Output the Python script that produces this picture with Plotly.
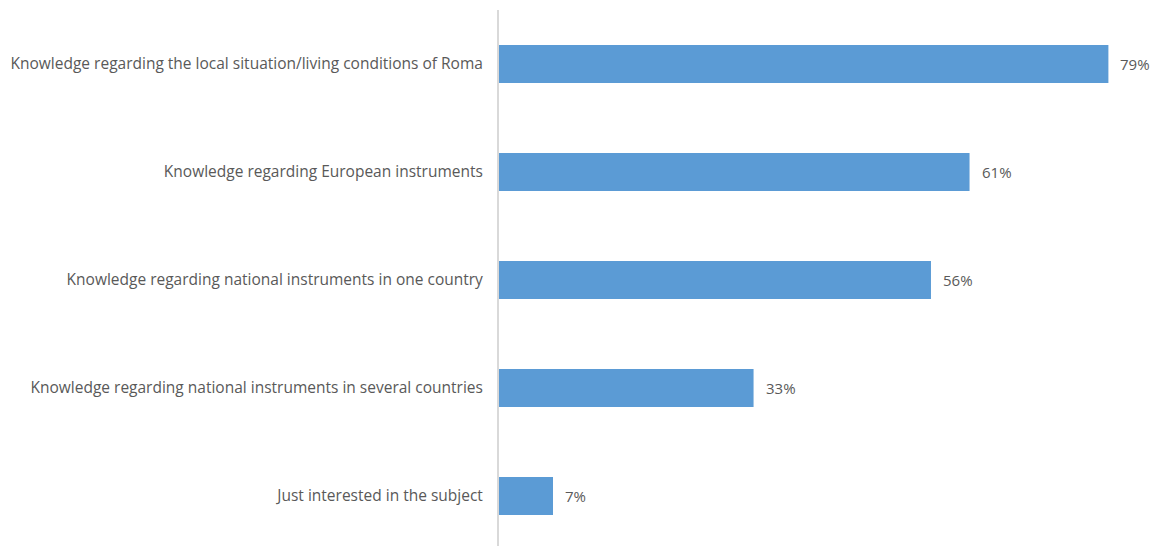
import plotly.graph_objects as go

categories = [
    "Knowledge regarding the local situation/living conditions of Roma",
    "Knowledge regarding European instruments",
    "Knowledge regarding national instruments in one country",
    "Knowledge regarding national instruments in several countries",
    "Just interested in the subject",
]
values = [79, 61, 56, 33, 7]
labels = [f"{v}%" for v in values]

FONT = "Open Sans"
TEXT_COLOR = "#595959"

fig = go.Figure(
    go.Bar(
        x=values,
        y=categories,
        orientation="h",
        width=0.352,
        marker=dict(color="#5B9BD5", line=dict(width=0)),
        hoverinfo="skip",
    )
)

# value labels just to the right of each bar end
for cat, val, lab in zip(categories, values, labels):
    fig.add_annotation(
        x=val,
        y=cat,
        text=lab,
        showarrow=False,
        xanchor="left",
        yanchor="middle",
        xshift=10,
        font=dict(family=FONT, size=15, color=TEXT_COLOR),
    )

fig.update_layout(
    width=1157,
    height=546,
    margin=dict(l=499, r=0, t=10, b=0),
    plot_bgcolor="white",
    paper_bgcolor="white",
    showlegend=False,
    xaxis=dict(
        range=[0, 85.3],
        showgrid=False,
        zeroline=False,
        showticklabels=False,
        showline=False,
    ),
    yaxis=dict(
        range=[4.463, -0.5],
        showgrid=False,
        zeroline=False,
        showline=True,
        linecolor="#D9D9D9",
        linewidth=2,
        ticks="",
        ticklabelstandoff=11,
        tickfont=dict(family=FONT, size=15.5, color=TEXT_COLOR),
    ),
)

fig.write_html("out.html")
